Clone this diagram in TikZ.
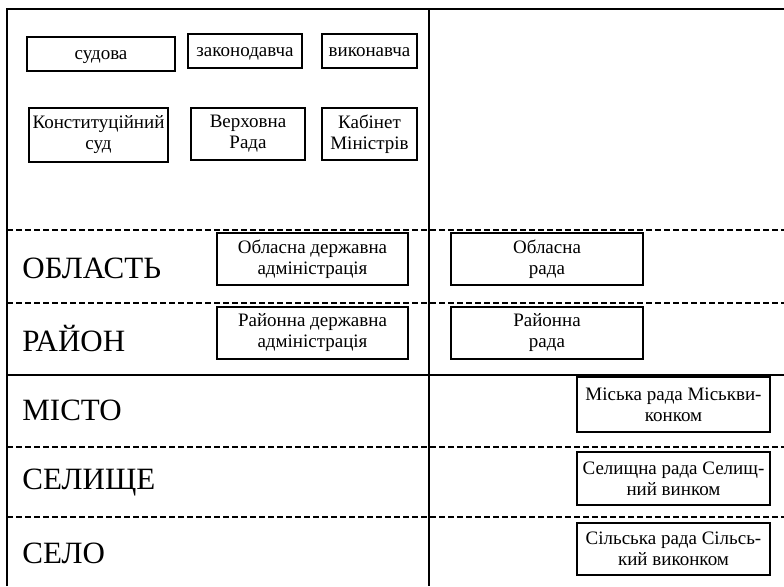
\documentclass[tikz,border=0pt]{standalone}
\usepackage{fontspec}
\setmainfont{Liberation Serif}

\tikzset{
  organ/.style={draw, line width=1.1pt, inner sep=0pt, font=\fontsize{9.5}{10.5}\selectfont},
  level/.style={anchor=west, inner sep=0pt, font=\fontsize{15.5}{18}\selectfont},
  solidline/.style={line width=0.8pt},
  dashline/.style={line width=0.7pt, dash pattern=on 3pt off 1.5pt}
}

\begin{document}
\begin{tikzpicture}[x=0.5pt, y=-0.5pt]
    \useasboundingbox (0,0) rectangle (784,586);

    % table frame
    \draw[solidline] (7,586) -- (7,9) -- (784,9);
    \draw[solidline] (429,9) -- (429,586);
    \draw[dashline] (7,230) -- (784,230);
    \draw[dashline] (7,303) -- (784,303);
    \draw[solidline] (7,375) -- (784,375);
    \draw[dashline] (7,447) -- (784,447);
    \draw[dashline] (7,517) -- (784,517);

    % central power
    \node[organ, minimum width=74pt, minimum height=17pt, text height=7pt, text depth=2pt] (sudova) at (101,54) {судова};
    \node[organ, minimum width=57pt, minimum height=17pt, text height=7pt, text depth=2pt] (zakon) at (245,51) {законодавча};
    \node[organ, minimum width=47.5pt, minimum height=17pt, text height=7pt, text depth=2pt] (vykon) at (369.5,51) {виконавча};

    \node[organ, minimum width=69.5pt, minimum height=27pt] (ksud) at (98.5,135) {\parbox{68pt}{\centering Конституційний\\ суд}};
    \node[organ, minimum width=57pt, minimum height=26pt] (vrada) at (248,134) {\parbox{55pt}{\centering Верховна\\ Рада}};
    \node[organ, minimum width=47.5pt, minimum height=26pt] (kabmin) at (369.5,134) {\parbox{46pt}{\centering Кабінет\\ Міністрів}};

    % levels
    \node[level] (oblast) at (22,268) {ОБЛАСТЬ};
    \node[level] (rayon) at (22,339) {РАЙОН};
    \node[level] (misto) at (22,410) {МІСТО};
    \node[level] (selyshche) at (22,483) {СЕЛИЩЕ};
    \node[level] (selo) at (22,553) {СЕЛО};

    % local bodies
    \node[organ, minimum width=95.5pt, minimum height=26pt] (oda) at (312.5,259) {\parbox{94pt}{\centering Обласна державна\\ адміністрація}};
    \node[organ, minimum width=95.5pt, minimum height=26pt] (rda) at (312.5,333) {\parbox{94pt}{\centering Районна державна\\ адміністрація}};
    \node[organ, minimum width=96pt, minimum height=26pt] (orada) at (547,259) {\parbox{94pt}{\centering Обласна\\ рада}};
    \node[organ, minimum width=96pt, minimum height=26pt] (rrada) at (547,333) {\parbox{94pt}{\centering Районна\\ рада}};

    \node[organ, minimum width=96.5pt, minimum height=27.5pt] (mrada) at (673.5,404.5) {\parbox{95pt}{\centering Міська рада Міськви-\\ конком}};
    \node[organ, minimum width=96.5pt, minimum height=26.5pt] (srada) at (673.5,478.5) {\parbox{95pt}{\centering Селищна рада Селищ-\\ ний винком}};
    \node[organ, minimum width=96.5pt, minimum height=26pt] (slrada) at (673.5,549) {\parbox{95pt}{\centering Сільська рада Сільсь-\\ кий виконком}};
\end{tikzpicture}
\end{document}
